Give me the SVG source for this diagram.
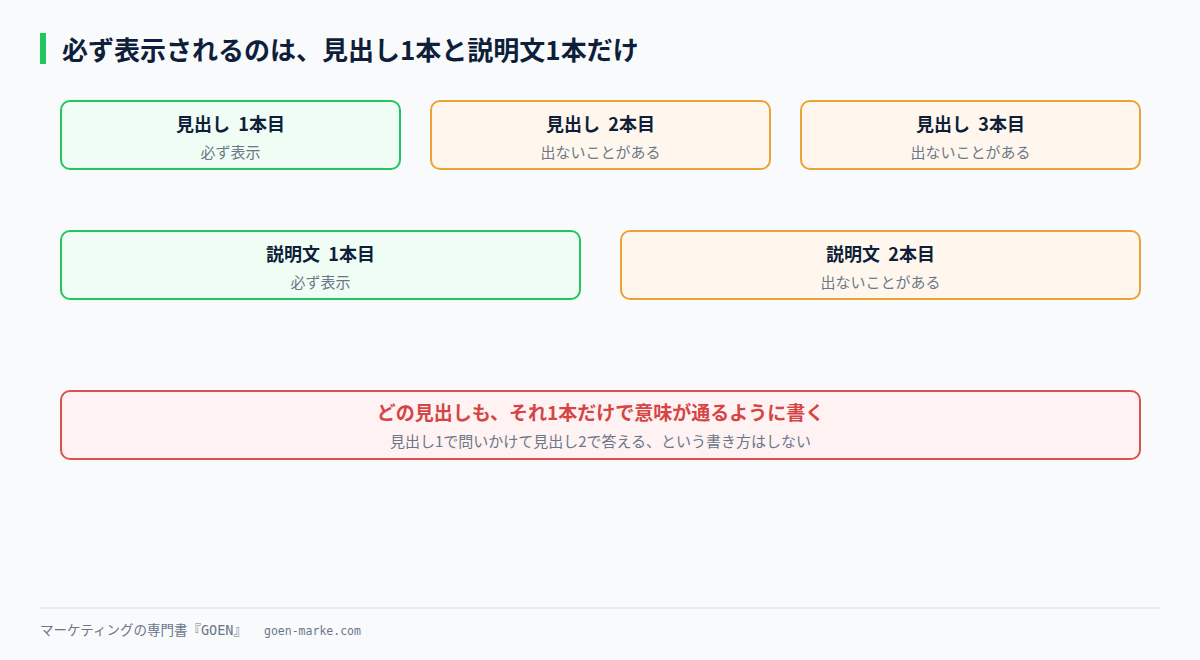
<svg xmlns="http://www.w3.org/2000/svg" width="1200" height="660" viewBox="0 0 1200 660">
<style>
.bg{fill:#f8fafc}
.ok{fill:#f0fdf4;stroke:#22c55e;stroke-width:2}
.maybe{fill:#fff7ed;stroke:#eba236;stroke-width:2}
.warn{fill:#fef2f2;stroke:#dc5050;stroke-width:2}
.t{font-family:"Noto Sans CJK JP","Noto Sans",sans-serif;font-weight:700;font-size:18px;fill:#0f1f3a;text-anchor:middle;white-space:pre}
.s{font-family:"Noto Sans CJK JP","Noto Sans",sans-serif;font-size:15px;fill:#6b7789;text-anchor:middle}
.rt{font-family:"Noto Sans CJK JP","Noto Sans",sans-serif;font-weight:700;font-size:19px;fill:#d64545;text-anchor:middle}
.title{font-family:"Noto Sans CJK JP","Noto Sans",sans-serif;font-weight:700;font-size:26px;fill:#0f1f3a}
.foot{font-family:"DejaVu Sans Mono","Noto Sans CJK JP",monospace;font-size:13.5px;fill:#6b7789}
</style>
<rect class="bg" x="0" y="0" width="1200" height="660"/>
<g id="title">
<rect x="40" y="33" width="6" height="31" fill="#22c55e"/>
<text class="title" x="62" y="60">必ず表示されるのは、見出し1本と説明文1本だけ</text>
</g>
<g id="h1">
<rect class="ok" x="61" y="101" width="339" height="68" rx="9"/>
<text class="t" x="230.5" y="131" xml:space="preserve">見出し  1本目</text>
<text class="s" x="230.5" y="158">必ず表示</text>
</g>
<g id="h2">
<rect class="maybe" x="431" y="101" width="339" height="68" rx="9"/>
<text class="t" x="600.5" y="131" xml:space="preserve">見出し  2本目</text>
<text class="s" x="600.5" y="158">出ないことがある</text>
</g>
<g id="h3">
<rect class="maybe" x="801" y="101" width="339" height="68" rx="9"/>
<text class="t" x="970.5" y="131" xml:space="preserve">見出し  3本目</text>
<text class="s" x="970.5" y="158">出ないことがある</text>
</g>
<g id="d1">
<rect class="ok" x="61" y="231" width="519" height="68" rx="9"/>
<text class="t" x="320.5" y="261" xml:space="preserve">説明文  1本目</text>
<text class="s" x="320.5" y="288">必ず表示</text>
</g>
<g id="d2">
<rect class="maybe" x="621" y="231" width="519" height="68" rx="9"/>
<text class="t" x="880.5" y="261" xml:space="preserve">説明文  2本目</text>
<text class="s" x="880.5" y="288">出ないことがある</text>
</g>
<g id="rule">
<rect class="warn" x="61" y="391" width="1079" height="68" rx="9"/>
<text class="rt" x="600.5" y="420">どの見出しも、それ1本だけで意味が通るように書く</text>
<text class="s" x="600.5" y="447">見出し1で問いかけて見出し2で答える、という書き方はしない</text>
</g>
<g id="connectors"></g>
<g id="footer">
<line x1="40" y1="608" x2="1160" y2="608" stroke="#e2e8f0" stroke-width="1.5"/>
<text class="foot" x="40" y="635">マーケティングの専門書『GOEN』<tspan x="264" font-size="11.5">goen-marke.com</tspan></text>
</g>
</svg>
